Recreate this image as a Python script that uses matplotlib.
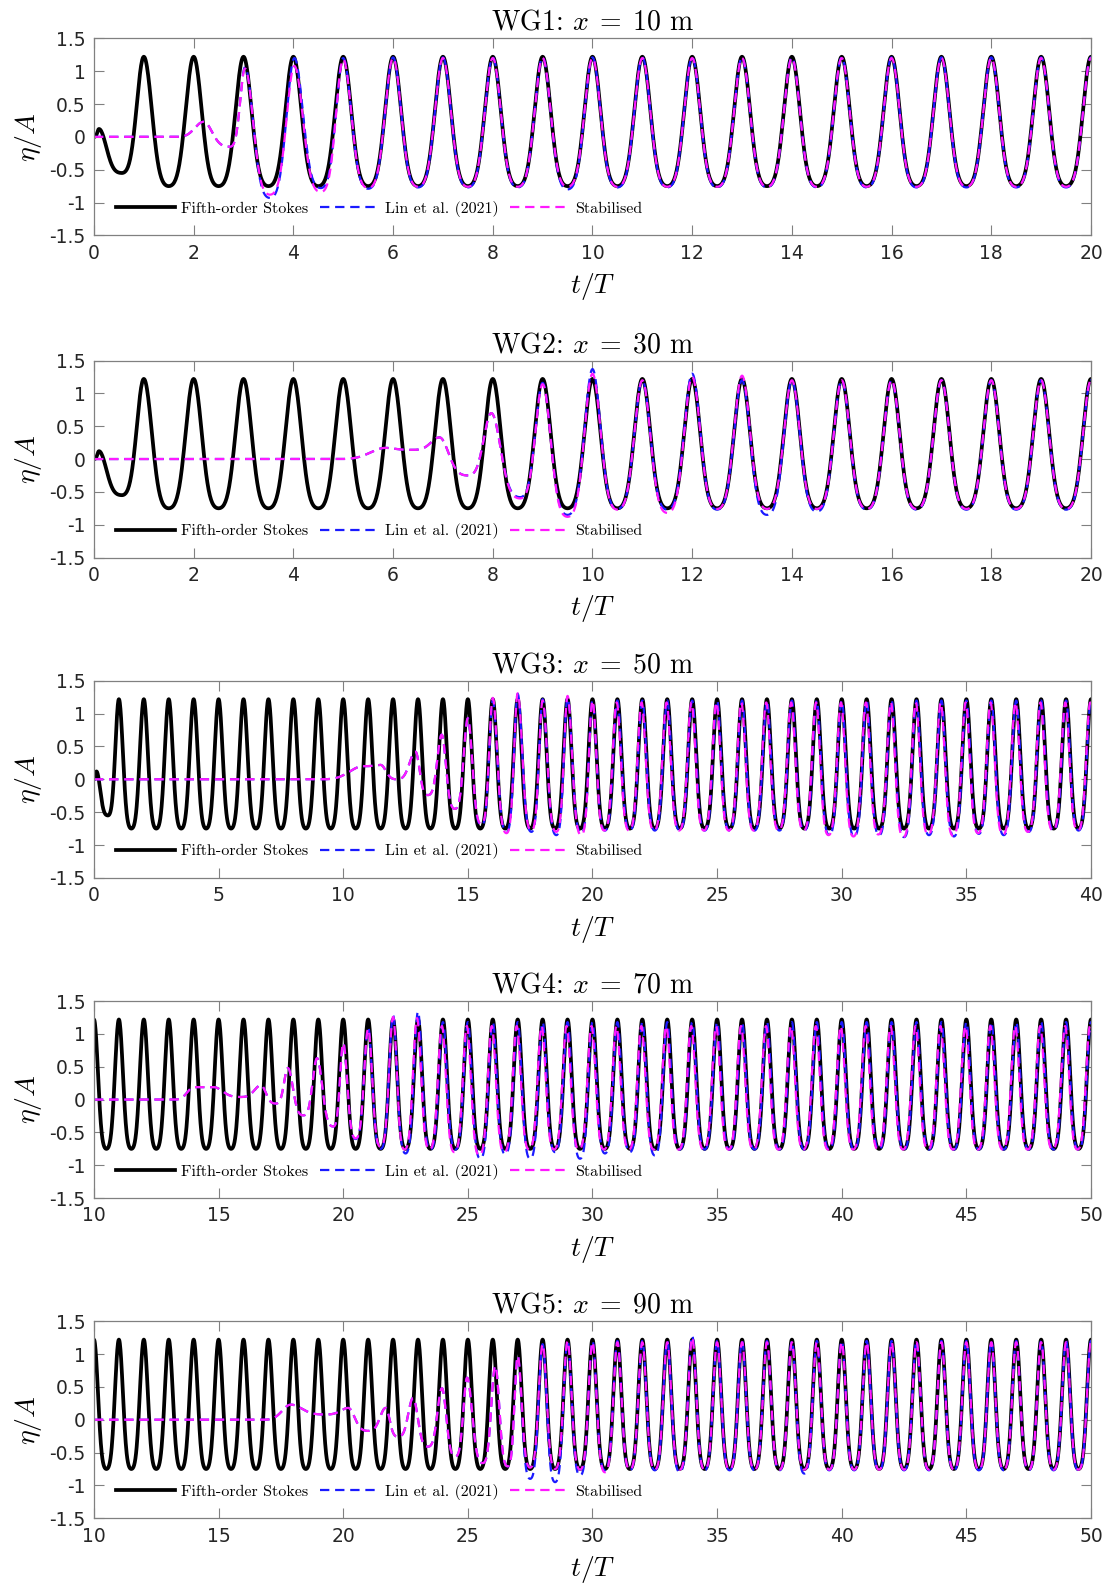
import numpy as np
import matplotlib
matplotlib.use("Agg")
import matplotlib.pyplot as plt
from matplotlib.lines import Line2D

plt.rcParams["mathtext.fontset"] = "cm"
plt.rcParams["axes.unicode_minus"] = False

# ---------------- data ----------------
gauge_names = ["WG1", "WG2", "WG3", "WG4", "WG5"]
gauge_x = [10, 30, 50, 70, 90]
x_limits = [(0, 20), (0, 20), (0, 40), (10, 50), (10, 50)]
x_ticks = [list(range(0, 21, 2)), list(range(0, 21, 2)), list(range(0, 41, 5)),
           list(range(10, 51, 5)), list(range(10, 51, 5))]
y_ticks = [-1.5, -1, -0.5, 0, 0.5, 1, 1.5]
y_tick_labels = ["-1.5", "-1", "-0.5", "0", "0.5", "1", "1.5"]

# fifth-order Stokes: crest / trough levels and start-up extrema
stokes_crest = 1.22
stokes_trough = -0.75
ramp_t = [0, 0.1, 0.56]
ramp_v = [0, 0.12, -0.55]
stokes_start = [1.0, 1.0, 1.0, 10.0, 10.0]   # first full crest

# transient extrema (time, value) of the numerical series
wg1_t = [0, 1.65, 2.2, 2.73, 3.03, 3.53, 4.02, 4.55, 5.0]
wg1_stab = [0, 0, 0.23, -0.15, 1.04, -0.88, 1.08, -0.84, 1.18]
wg1_lin = [0, 0, 0.23, -0.15, 1.06, -0.93, 1.2, -0.78, 1.2]

wg2_t = [0, 4.9, 5.85, 6.4, 6.93, 7.5, 7.97, 8.55, 9.0, 9.5, 10.0, 10.5, 11.0]
wg2_stab = [0, 0, 0.17, 0.14, 0.33, -0.25, 0.7, -0.6, 1.14, -0.88, 1.3, -0.77, 1.2]
wg2_lin = [0, 0, 0.17, 0.14, 0.33, -0.25, 0.7, -0.58, 1.16, -0.85, 1.37, -0.76, 1.2]

wg3_t = [0, 9.1, 10.8, 11.5, 12.15, 12.9, 13.4, 13.95, 14.48, 15.0, 15.55, 16.0,
         16.55, 17.0, 17.55, 18.0, 18.55, 19.0, 19.55, 20.0]
wg3_stab = [0, 0, 0.2, 0.22, 0.0, 0.42, -0.24, 0.68, -0.45, 0.93, -0.68, 1.24,
            -0.82, 1.31, -0.78, 1.2, -0.8, 1.27, -0.85, 1.2]
wg3_lin = [0, 0, 0.2, 0.22, 0.0, 0.42, -0.24, 0.68, -0.45, 0.93, -0.7, 1.2,
           -0.8, 1.3, -0.8, 1.22, -0.85, 1.25, -0.82, 1.2]

wg4_t = [10, 13.2, 14.0, 14.8, 15.9, 16.7, 17.3, 17.78, 18.4, 18.95, 19.6, 20.0,
         20.5, 21.0, 21.5, 22.0]
wg4_stab = [0, 0, 0.19, 0.19, 0.04, 0.22, -0.06, 0.48, -0.24, 0.63, -0.41, 0.86,
            -0.59, 1.08, -0.72, 1.26]
wg4_lin = [0, 0, 0.19, 0.19, 0.04, 0.22, -0.06, 0.48, -0.24, 0.63, -0.41, 0.86,
           -0.6, 1.1, -0.75, 1.28]

wg5_t = [10, 16.8, 17.9, 19.27, 20.2, 21.0, 21.7, 22.2, 22.8, 23.4, 23.96, 24.5,
         24.97, 25.6, 26.1, 26.6, 27.0, 27.5, 28.0, 28.5, 29.0]
wg5_stab = [0, 0, 0.23, 0.08, 0.18, -0.17, 0.18, -0.26, 0.33, -0.41, 0.48, -0.56,
            0.64, -0.66, 0.82, -0.71, 0.97, -0.73, 1.15, -0.75, 1.2]
wg5_lin = [0, 0, 0.23, 0.08, 0.18, -0.17, 0.18, -0.26, 0.33, -0.41, 0.48, -0.56,
           0.64, -0.66, 0.82, -0.71, 0.97, -0.9, 1.15, -0.95, 1.2]

# steady part: crest, trough and the individual extrema that differ
lin_crest = [1.21, 1.2, 1.2, 1.18, 1.2]
lin_trough = [-0.77, -0.77, -0.78, -0.76, -0.77]
stab_crest = [1.2, 1.2, 1.17, 1.12, 1.18]
stab_trough = [-0.76, -0.76, -0.78, -0.76, -0.76]
stab_shift = [0.0, 0.0, -0.03, -0.04, 0.0]
lin_special = [
    {5.5: -0.79, 9.5: -0.8},
    {12.0: 1.3, 13.5: -0.85, 14.5: -0.8},
    {29.5: -0.85, 30.5: -0.87, 31.5: -0.85, 32.5: -0.88, 33.5: -0.85,
     34.5: -0.87, 35.5: -0.83, 36.5: -0.85, 37.5: -0.8},
    {22.5: -0.82, 23.0: 1.34, 25.5: -0.9, 26.5: -0.83, 27.5: -0.9, 28.5: -0.8,
     29.5: -0.9, 30.5: -0.82, 31.5: -0.8, 32.5: -0.85},
    {29.5: -0.85, 33.5: -0.8, 34.0: 1.28, 38.5: -0.82},
]
stab_special = [
    {5.5: -0.78},
    {11.5: -0.82, 12.0: 1.25, 13.0: 1.27},
    {29.5: -0.85, 30.5: -0.87, 31.5: -0.84, 32.5: -0.88, 33.5: -0.84,
     34.5: -0.86, 35.5: -0.82, 36.5: -0.84, 37.5: -0.8},
    {23.0: 1.24, 24.5: -0.8, 25.5: -0.85, 26.5: -0.8},
    {30.5: -0.8, 34.0: 1.25},
]

trans_t = [wg1_t, wg2_t, wg3_t, wg4_t, wg5_t]
trans_stab = [wg1_stab, wg2_stab, wg3_stab, wg4_stab, wg5_stab]
trans_lin = [wg1_lin, wg2_lin, wg3_lin, wg4_lin, wg5_lin]

# Stokes-like profile used to draw the line between two extrema
shape_coef = [0.97, 0.23, 0.015]


def shape(theta):
    top = sum(shape_coef[i] for i in range(3))
    bot = sum(shape_coef[i] * (-1) ** (i + 1) for i in range(3))
    eta = sum(shape_coef[i] * np.cos((i + 1) * theta) for i in range(3))
    return (eta - bot) / (top - bot)


def steady(t_start, t_end, crest, trough, special, shift):
    ts, vs = [], []
    t = t_start
    while t <= t_end + 0.51:
        is_crest = abs(t - round(t)) < 1e-6
        v = special.get(t, crest if is_crest else trough)
        ts.append(t + shift)
        vs.append(v)
        t += 0.5
    return ts, vs


def wave(ext_t, ext_v, n=40):
    out_t, out_v = [], []
    for i in range(len(ext_t) - 1):
        t0, t1 = ext_t[i], ext_t[i + 1]
        v0, v1 = ext_v[i], ext_v[i + 1]
        s = np.linspace(0, 1, n, endpoint=False)
        if v1 >= v0:
            v = v0 + (v1 - v0) * shape(np.pi * (1 - s))
        else:
            v = v1 + (v0 - v1) * shape(np.pi * s)
        out_t.append(t0 + (t1 - t0) * s)
        out_v.append(v)
    out_t.append([ext_t[-1]])
    out_v.append([ext_v[-1]])
    return np.concatenate(out_t), np.concatenate(out_v)


# ---------------- figure ----------------
fig = plt.figure(figsize=(11.16, 15.84), dpi=100)
left, width, height = 0.0842, 0.8934, 0.1244
bottoms = [0.8514, 0.648, 0.4458, 0.2436, 0.0415]

frame_col = "#808080"
dash = (0, (4.2, 2.6))

for k in range(5):
    ax = fig.add_axes([left, bottoms[k], width, height])
    x0, x1 = x_limits[k]

    # Stokes
    if k < 3:
        st_t, st_v = list(ramp_t), list(ramp_v)
    else:
        st_t, st_v = [], []
    a, b = steady(stokes_start[k], x1, stokes_crest, stokes_trough, {}, 0.0)
    st_t += a
    st_v += b
    ts, vs = wave(st_t, st_v)
    ax.plot(ts, vs, color="black", lw=2.7, solid_capstyle="round")

    # Lin et al. (2021)
    start = trans_t[k][-1] + 0.5
    a, b = steady(start, x1, lin_crest[k], lin_trough[k], lin_special[k], 0.0)
    ts, vs = wave(trans_t[k] + a, trans_lin[k] + b)
    ax.plot(ts, vs, color="#1a1aff", lw=1.6, linestyle=dash)

    # Stabilised
    a, b = steady(start, x1, stab_crest[k], stab_trough[k], stab_special[k], stab_shift[k])
    ts, vs = wave(trans_t[k] + a, trans_stab[k] + b)
    ax.plot(ts, vs, color="#ff1aff", lw=1.6, linestyle=dash)

    ax.set_xlim(x0, x1)
    ax.set_ylim(-1.5, 1.5)
    ax.set_xticks(x_ticks[k], [str(v) for v in x_ticks[k]])
    ax.set_yticks(y_ticks, y_tick_labels)
    ax.tick_params(direction="in", top=True, right=True, length=7, width=0.8,
                   color=frame_col, labelcolor="#262626", labelsize=13.5, pad=6)
    for sp in ax.spines.values():
        sp.set_color(frame_col)
        sp.set_linewidth(0.9)

    ax.set_title(r"%s: $x \;=\; %d$ m" % (gauge_names[k], gauge_x[k]),
                 fontfamily="cmr10", fontsize=20, pad=6)
    ax.set_xlabel(r"$t/T$", fontsize=20, labelpad=6)
    ax.set_ylabel(r"$\eta/A$", fontsize=20, labelpad=4)

    handles = [
        Line2D([], [], color="black", lw=2.7),
        Line2D([], [], color="#1a1aff", lw=1.6, linestyle=dash),
        Line2D([], [], color="#ff1aff", lw=1.6, linestyle=dash),
    ]
    ax.legend(handles, ["Fifth-order Stokes", "Lin et al. (2021)", "Stabilised"],
              loc="center left", bbox_to_anchor=(0.022, 0.134), ncol=3,
              frameon=False, borderpad=0, borderaxespad=0, handlelength=3.7,
              handletextpad=0.4, columnspacing=0.7,
              prop={"family": "cmr10", "size": 11.5})

fig.savefig("out.png", dpi=100)
